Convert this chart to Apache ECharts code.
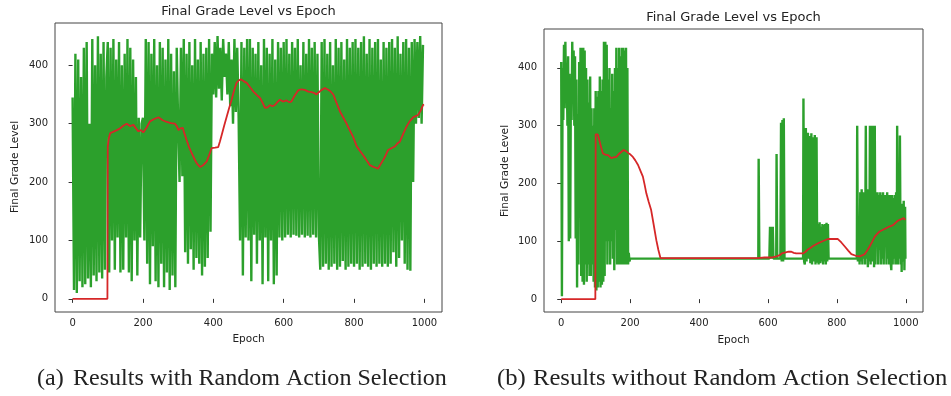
<!DOCTYPE html>
<html>
<head>
<meta charset="utf-8">
<script src="https://cdn.jsdelivr.net/npm/echarts@6/dist/echarts.min.js"></script>
<style>
html,body{margin:0;padding:0;background:#fff;}
#chart{width:951px;height:396px;}
</style>
</head>
<body>
<div id="chart"></div>
<script>
// ---------- DATA ----------
const chartTitle = "Final Grade Level vs Epoch";
const xAxisName = "Epoch";
const yAxisName = "Final Grade Level";
const captionA = ["(a)", "Results with Random Action Selection"];
const captionB = ["(b)", "Results without Random Action Selection"];
const xTicks = [0, 200, 400, 600, 800, 1000];
const yTicks = [0, 100, 200, 300, 400];

// (a) green raw series, sampled every 4 epochs (0..996)
const leftGreenStep = 4;
const leftGreen = [
  345, 15, 420, 10, 410, 30, 380, 20, 430, 25, 440, 35, 300, 20, 445, 40, 400, 30, 450, 45, 420, 35, 440, 50, 380,
  440, 45, 430, 100, 445, 50, 410, 105, 440, 45, 400, 50, 420, 105, 445, 45, 430, 30, 410, 100, 380, 40, 310, 105, 300,
  310, 100, 445, 60, 440, 25, 420, 90, 445, 30, 400, 20, 440, 60, 430, 20, 410, 45, 445, 15, 420, 40, 390, 20, 430,
  300, 200, 430, 210, 445, 80, 420, 60, 440, 85, 400, 50, 445, 70, 410, 60, 440, 40, 420, 55, 430, 70, 445, 115, 420,
  350, 440, 345, 450, 360, 430, 340, 445, 380, 420, 350, 440, 330, 410, 300, 445, 320, 430, 310, 100, 440, 40, 430, 105, 445,
  100, 445, 30, 430, 110, 420, 60, 440, 100, 400, 25, 445, 105, 430, 30, 420, 100, 445, 25, 410, 40, 440, 105, 430, 100,
  440, 105, 445, 110, 420, 105, 440, 110, 430, 108, 445, 105, 400, 110, 440, 105, 420, 108, 445, 105, 430, 110, 440, 105, 420,
  110, 50, 440, 55, 445, 60, 420, 50, 440, 55, 400, 60, 445, 50, 430, 55, 440, 65, 410, 50, 445, 55, 430, 60, 440,
  55, 445, 60, 430, 50, 440, 55, 450, 60, 420, 55, 445, 50, 430, 60, 440, 55, 445, 60, 410, 55, 440, 60, 430, 55,
  440, 60, 445, 80, 430, 55, 450, 70, 420, 100, 440, 60, 445, 50, 430, 48, 440, 200, 445, 300, 440, 310, 450, 300, 435
];

// (a) red moving average
const leftRedEpochs = [0,99,100,103,107,115,126,135,145,154,163,173,180,187,194,201,210,220,232,244,256,268,280,291,297,301,307,313,318,324,331,339,346,353,362,371,381,388,395,405,414,419,424,431,438,445,452,459,466,472,478,486,495,505,514,524,533,540,547,554,561,568,575,582,589,598,608,615,622,631,641,650,660,670,679,686,693,700,708,717,724,732,741,750,760,769,778,787,797,807,816,826,836,845,852,860,868,875,883,890,897,906,916,923,930,940,949,958,968,975,982,989,996,999];
const leftRedValues = [0,0,261,275,284,286,289,292,297,300,296,298,292,287,289,285,293,304,308,311,306,303,301,300,295,289,292,293,283,272,260,249,240,232,226,229,235,246,258,259,260,270,281,297,312,327,341,357,370,374,376,373,370,362,355,349,344,336,327,328,332,330,332,337,341,338,340,337,338,348,357,359,358,355,354,353,350,354,358,361,359,356,350,336,321,311,301,290,278,262,254,246,237,229,227,225,223,230,238,246,255,258,261,266,269,283,295,304,311,313,315,322,332,333];

// (b) green raw series as [epoch, value]
const rightGreen = [
  [0,410],[2,5],[4,400],[6,310],[8,440],[10,330],[12,445],[14,350],[16,395],[18,300],[20,420],[22,100],[24,390],[26,105],[28,370],[30,310],[32,445],[34,340],[36,430],[38,300],[40,420],[42,105],[44,380],[46,20],[48,320],[50,60],[52,410],[54,200],[56,435],[58,40],[60,435],[62,30],[64,435],[66,25],[68,430],[70,60],[72,400],[74,30],[76,380],[78,60],[80,340],[82,40],[84,385],[86,40],[88,330],[90,60],[92,300],[94,30],[96,330],[98,20],
  [100,360],[102,15],[104,350],[106,20],[108,360],[110,30],[112,385],[114,20],[116,360],[118,25],[120,380],[122,30],[124,445],[126,40],[128,445],[130,100],[132,440],[134,60],[136,380],[138,100],[140,400],[142,60],[144,330],[146,100],[148,390],[150,70],[152,360],[154,50],[156,400],[158,120],[160,435],[162,60],[164,400],[166,60],[168,435],[170,60],[172,420],[174,60],[176,435],[178,60],[180,435],[182,60],[184,430],[186,60],[188,435],[190,60],[192,400],[194,60],[196,80],[198,65],[200,70],
  [572,70],[573,243],[575,70],[604,70],[606,125],[608,70],[610,125],[612,70],[614,125],[616,70],[624,70],[625,251],[627,70],[636,70],[638,305],[640,65],[642,310],[644,65],[646,313],[648,70],[650,70],
  [702,70],[703,347],[705,65],[707,60],[710,296],[712,65],[716,288],[718,70],[721,282],[723,62],[726,287],[728,60],[731,280],[733,65],[736,284],[738,60],[741,280],[743,63],[745,130],[747,60],[750,133],[752,62],[754,125],[756,65],[758,130],[760,60],[762,128],[764,65],[766,130],[768,60],[770,132],[772,65],[774,130],[776,70],
  [858,70],[859,300],[861,65],[864,140],[866,60],[868,185],[870,65],[872,190],[874,60],[876,185],[878,70],[880,160],[882,60],[884,300],[886,70],[888,190],[890,55],[892,185],[894,65],[896,300],[898,60],[900,300],[902,65],[904,190],[906,300],[908,55],[910,300],[912,60],[914,185],[916,100],[918,185],[920,60],[922,180],[924,85],[926,185],[928,60],[930,180],[932,70],[934,185],[936,60],[938,180],[940,100],[942,180],[944,60],[946,185],[948,70],[950,180],[952,60],[954,180],[956,65],[958,50],[960,180],[962,60],[964,175],[966,70],[968,180],[970,60],[972,185],[974,70],[975,300],[977,60],[979,170],[981,70],[983,283],[985,60],[987,165],[988,47],[990,160],[992,65],[994,170],[996,50],[998,160],[999,70]
];

// (b) red moving average
const rightRedEpochs = [0,99,100,103,106,110,113,117,121,128,136,140,145,152,160,165,169,175,181,188,194,201,208,215,223,230,237,242,247,254,261,268,276,282,288,570,590,610,625,634,640,644,660,668,675,682,702,709,716,724,731,740,750,762,774,790,803,813,823,833,842,855,866,875,881,888,895,903,910,917,924,934,944,954,963,970,978,986,994,999];
const rightRedValues = [0,0,285,287,285,276,269,260,252,250,249,246,244,245,246,249,252,255,258,256,253,250,246,240,232,222,212,198,183,168,154,130,102,85,71,71,72,72,74,76,79,82,82,82,80,79,79,82,86,89,92,95,98,101,104,104,104,98,91,84,78,75,74,76,78,84,91,100,108,113,117,120,123,126,128,132,136,138,140,137];

// ---------- BUILD ----------
const GREEN = '#2ca02c', RED = '#d62728';
const leftGreenPairs = leftGreen.map((v, i) => [i * leftGreenStep, v]);
const zip = (xs, ys) => xs.map((x, i) => [x, ys[i]]);

const grids = [
  {left: 55, right: 509, top: 23, bottom: 84},
  {left: 544, right: 28, top: 29, bottom: 84}
];
const yRanges = [[-22.5, 472.5], [-22.25, 467.25]];
const labelStyle = {color: '#222', fontSize: 10, fontFamily: 'DejaVu Sans', formatter: v => String(v)};

function xAxis(i) {
  return {
    type: 'value', gridIndex: i, min: -50, max: 1050,
    axisLine: {show: false}, splitLine: {show: false},
    axisTick: {show: true, inside: false, length: 4, customValues: xTicks, lineStyle: {color: '#333'}},
    axisLabel: Object.assign({show: true, customValues: xTicks, margin: 6}, labelStyle)
  };
}
function yAxis(i) {
  return {
    type: 'value', gridIndex: i, min: yRanges[i][0], max: yRanges[i][1],
    axisLine: {show: false}, splitLine: {show: false},
    axisTick: {show: true, inside: false, length: 4, customValues: yTicks, lineStyle: {color: '#333'}},
    axisLabel: Object.assign({show: true, customValues: yTicks, margin: 7}, labelStyle)
  };
}

function txt(x, y, text, size, family, opts) {
  opts = opts || {};
  return {
    type: 'text', x: x, y: y, rotation: opts.rotation || 0, scaleX: opts.scaleX || 1,
    style: {text: text, fill: '#222', font: size + 'px ' + family,
            textAlign: opts.align || 'center', textVerticalAlign: 'middle'}
  };
}

const chart = echarts.init(document.getElementById('chart'), null, {renderer: 'canvas'});
chart.setOption({
  animation: false,
  backgroundColor: '#fff',
  grid: grids.map(g => Object.assign({show: true, borderColor: '#444', borderWidth: 1, backgroundColor: 'transparent'}, g)),
  xAxis: [xAxis(0), xAxis(1)],
  yAxis: [yAxis(0), yAxis(1)],
  series: [
    {type: 'line', xAxisIndex: 0, yAxisIndex: 0, data: leftGreenPairs, showSymbol: false, lineStyle: {color: GREEN, width: 2.4}, z: 2},
    {type: 'line', xAxisIndex: 0, yAxisIndex: 0, data: zip(leftRedEpochs, leftRedValues), showSymbol: false, lineStyle: {color: RED, width: 1.8}, z: 3},
    {type: 'line', xAxisIndex: 1, yAxisIndex: 1, data: rightGreen, showSymbol: false, lineStyle: {color: GREEN, width: 2.4}, z: 2},
    {type: 'line', xAxisIndex: 1, yAxisIndex: 1, data: zip(rightRedEpochs, rightRedValues), showSymbol: false, lineStyle: {color: RED, width: 1.8}, z: 3}
  ],
  graphic: [
    txt(248.5, 12, chartTitle, 13, 'DejaVu Sans'),
    txt(733.5, 18, chartTitle, 13, 'DejaVu Sans'),
    txt(248.5, 339, xAxisName, 10.5, 'DejaVu Sans'),
    txt(733.5, 340, xAxisName, 10.5, 'DejaVu Sans'),
    txt(15, 167, yAxisName, 10.7, 'DejaVu Sans', {rotation: Math.PI / 2}),
    txt(505, 171, yAxisName, 10.7, 'DejaVu Sans', {rotation: Math.PI / 2}),
    txt(37, 379, captionA[0], 23, 'Liberation Serif', {align: 'left', scaleX: 1.045}),
    txt(73, 379, captionA[1], 23, 'Liberation Serif', {align: 'left', scaleX: 1.045}),
    txt(497, 379, captionB[0], 23, 'Liberation Serif', {align: 'left', scaleX: 1.07}),
    txt(533, 379, captionB[1], 23, 'Liberation Serif', {align: 'left', scaleX: 1.07})
  ]
});
</script>
</body>
</html>
